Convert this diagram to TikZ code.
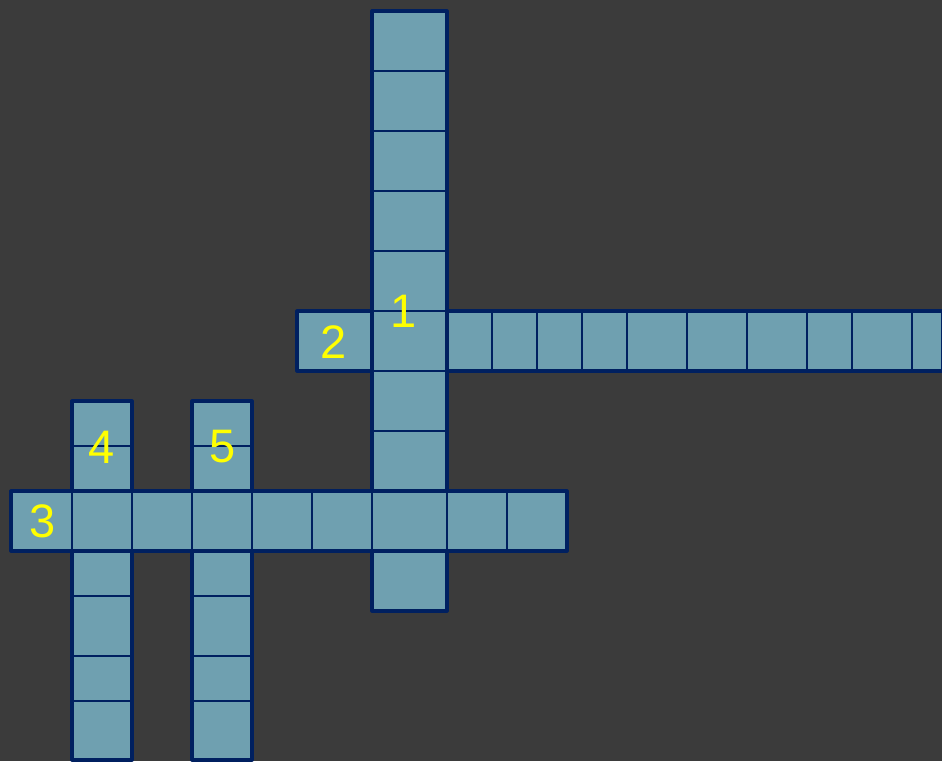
\documentclass[tikz,border=0pt]{standalone}
\usepackage{fontspec}
\setmainfont{Liberation Sans}
\definecolor{bgc}{RGB}{59,59,59}
\definecolor{cellc}{RGB}{111,160,176}
\definecolor{edgec}{RGB}{0,32,96}
\definecolor{numc}{RGB}{255,255,0}
\tikzset{
  strip/.style={fill=cellc},
  stripedge/.style={draw=edgec, line width=3.2pt, line join=round},
  cellline/.style={draw=edgec, line width=1.6pt},
  num/.style={text=numc, inner sep=0pt, font=\fontsize{47}{50}\selectfont}
}
\begin{document}
\begin{tikzpicture}[x=1pt,y=-1pt]
\useasboundingbox (0,0) rectangle (942,761);
\fill[bgc] (0,0) rectangle (942,761);
\clip (0,0) rectangle (942,761);
% row 2 (horizontal)
\fill[strip] (297,311) rectangle (943,371);
\foreach \x in {372,447,492,537,582,627,687,747,807,852,912}
  \draw[cellline] (\x,311) -- (\x,371);
\draw[stripedge] (297,311) rectangle (943,371);
% column 1 (vertical)
\fill[strip] (372,11) rectangle (447,611);
\foreach \y in {71,131,191,251,311,371,431,491,551}
  \draw[cellline] (372,\y) -- (447,\y);
\draw[stripedge] (372,11) rectangle (447,611);
% column 4 and column 5
\foreach \a/\b in {72/132,192/252}{
  \fill[strip] (\a,401) rectangle (\b,760);
  \foreach \y in {446,491,551,596,656,701}
    \draw[cellline] (\a,\y) -- (\b,\y);
  \draw[stripedge] (\a,401) rectangle (\b,760);
}
% row 3 (horizontal)
\fill[strip] (11,491) rectangle (567,551);
\foreach \x in {72,132,192,252,312,372,447,507}
  \draw[cellline] (\x,491) -- (\x,551);
\draw[stripedge] (11,491) rectangle (567,551);
% numbers
\node[num] (n1) at (404,311) {1};
\node[num] (n2) at (334,342) {2};
\node[num] (n3) at (43,521) {3};
\node[num] (n4) at (102,447) {4};
\node[num] (n5) at (223,447) {5};
\end{tikzpicture}
\end{document}
